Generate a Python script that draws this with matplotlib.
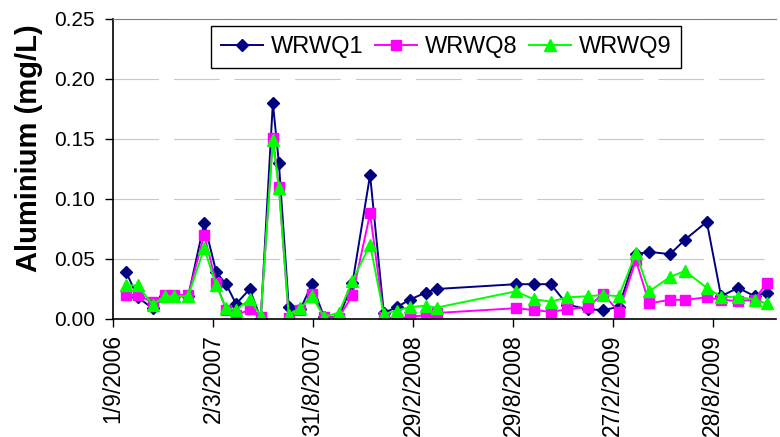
import matplotlib
matplotlib.use('Agg')
import matplotlib.pyplot as plt
import pandas as pd

# sampling dates (dd/mm/yyyy) and aluminium results (mg/L)
sample_dates = ['25/9/2006', '16/10/2006', '12/11/2006', '5/12/2006', '21/12/2006',
                '16/1/2007', '14/2/2007', '8/3/2007', '26/3/2007', '13/4/2007',
                '8/5/2007', '28/5/2007', '19/6/2007', '30/6/2007', '18/7/2007',
                '8/8/2007', '29/8/2007', '20/9/2007', '17/10/2007', '11/11/2007',
                '13/12/2007', '7/1/2008', '31/1/2008', '23/2/2008', '23/3/2008',
                '12/4/2008', '3/9/2008', '6/10/2008', '6/11/2008', '6/12/2008',
                '13/1/2009', '9/2/2009', '10/3/2009', '10/4/2009', '4/5/2009',
                '11/6/2009', '8/7/2009', '17/8/2009', '12/9/2009', '13/10/2009',
                '12/11/2009', '4/12/2009']

wrwq1 = [0.039, 0.018, 0.009, 0.019, 0.019, 0.019, 0.080, 0.039, 0.029, 0.0125,
         0.025, 0.000, 0.180, 0.130, 0.0097, 0.008, 0.029, 0.002, 0.001, 0.030,
         0.120, 0.005, 0.010, 0.016, 0.022, 0.025, 0.029, 0.029, 0.029, 0.012,
         0.008, 0.0075, 0.010, 0.054, 0.056, 0.054, 0.066, 0.081, 0.019, 0.026,
         0.019, 0.022]
wrwq8 = [0.020, 0.020, 0.014, 0.020, 0.020, 0.020, 0.070, 0.030, 0.0075, 0.003,
         0.008, 0.002, 0.151, 0.110, 0.001, 0.0075, 0.021, 0.002, 0.001, 0.020,
         0.088, 0.002, 0.000, 0.002, 0.003, 0.005, 0.009, 0.0075, 0.006, 0.008,
         0.010, 0.021, 0.006, 0.049, 0.013, 0.016, 0.016, 0.018, 0.016, 0.015,
         0.016, 0.030]
wrwq9 = [0.028, 0.028, 0.012, 0.019, 0.019, 0.019, 0.059, 0.028, 0.009, 0.0075,
         0.0165, 0.0025, 0.149, 0.109, 0.0035, 0.009, 0.019, 0.002, 0.005, 0.032,
         0.062, 0.004, 0.007, 0.010, 0.011, 0.0095, 0.023, 0.0165, 0.0145, 0.018,
         0.019, 0.020, 0.019, 0.055, 0.023, 0.035, 0.040, 0.026, 0.0185, 0.0185,
         0.016, 0.013]

tick_dates = ['1/9/2006', '2/3/2007', '31/8/2007', '29/2/2008',
              '29/8/2008', '27/2/2009', '28/8/2009']
y_ticks = [0.00, 0.05, 0.10, 0.15, 0.20, 0.25]

plt.rcParams['font.family'] = ['Liberation Sans', 'DejaVu Sans']

d = pd.to_datetime(sample_dates, dayfirst=True)
td = pd.to_datetime(tick_dates, dayfirst=True)

W, H = 780, 437
fig = plt.figure(figsize=(W / 100, H / 100), dpi=100)
ax = fig.add_axes([113 / W, 1 - 319 / H, (776 - 113) / W, 300 / H])

ax.plot(d, wrwq1, color='#000080', marker='D', ms=5.8, lw=1.4, label='WRWQ1')
ax.plot(d, wrwq8, color='#FF00FF', marker='s', ms=7, lw=1.4, label='WRWQ8')
ax.plot(d, wrwq9, color='#00FF00', marker='^', ms=8, lw=1.4, label='WRWQ9')

ax.set_xlim(td[0], td[0] + pd.Timedelta(days=1207))
ax.set_ylim(0, 0.25)
ax.set_xticks(td)
ax.set_xticklabels(['%d/%d/%d' % (t.day, t.month, t.year) for t in td],
                   rotation=90, fontsize=16.5)
ax.set_yticks(y_ticks)
ax.set_yticklabels(['%.2f' % v for v in y_ticks], fontsize=15)
ax.tick_params(axis='both', direction='out', length=6, width=1, color='black', pad=5)
ax.tick_params(axis='y', pad=7)

ax.set_ylabel('Aluminium (mg/L)', fontsize=21, fontweight='bold', labelpad=8)
ax.yaxis.set_label_coords(-0.105, 0.57)

ax.grid(axis='y', color='#C8C8C8', lw=0.8, linestyle=(0, (41, 13.5)))
ax.set_axisbelow(True)
ax.spines['right'].set_visible(False)
ax.spines['top'].set_color('#808080')
ax.spines['left'].set_linewidth(1.2)
ax.spines['bottom'].set_linewidth(1.2)

leg = ax.legend(loc='upper left', bbox_to_anchor=(211 / W, 1 - 26 / H),
                bbox_transform=fig.transFigure, ncol=3, fontsize=17,
                frameon=True, fancybox=False, edgecolor='black', framealpha=1,
                borderaxespad=0, borderpad=0.42, handlelength=1.8,
                handletextpad=0.3, columnspacing=0.5)
leg.get_frame().set_linewidth(1.0)

fig.savefig('out.png', dpi=100)
